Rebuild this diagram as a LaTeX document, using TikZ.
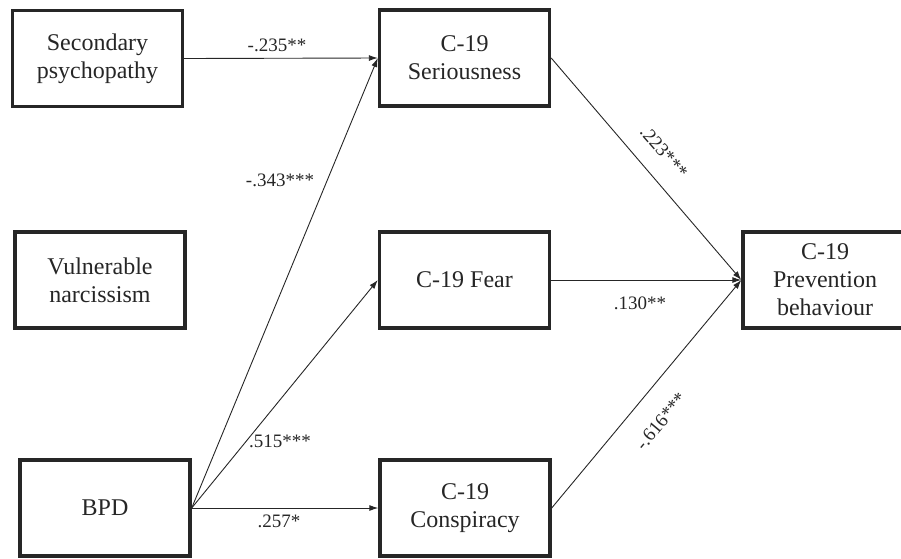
\documentclass[tikz,border=0pt]{standalone}
\usepackage{fontspec}
\setmainfont{Liberation Serif}
\usetikzlibrary{arrows.meta}
\begin{document}
\begin{tikzpicture}[x=1pt,y=-1pt,
  box/.style={draw=black!85, line width=3.4pt, minimum width=170pt, minimum height=96pt,
    inner sep=0pt, align=center, font=\fontsize{24}{28}\selectfont, text=black!85},
  path/.style={line width=0.9pt, draw=black!85, -{Latex[length=9pt,width=6pt]}},
  lab/.style={font=\fontsize{19}{22}\selectfont, text=black!85, inner sep=0pt}]
\useasboundingbox (0,0) rectangle (901,558);
\clip (0,0) rectangle (901,558);
\node[box] (sp) at (97.5,58.5) {Secondary\\psychopathy};
\node[box] (ser) at (464.5,58) {C-19\\Seriousness};
\node[box] (vn) at (100,280) {Vulnerable\\narcissism};
\node[box] (fear) at (464.5,280) {C-19 Fear};
\node[box, minimum width=164pt] (prev) at (825,280) {C-19\\Prevention\\behaviour};
\node[box] (bpd) at (105,508) {BPD};
\node[box] (con) at (465,508) {C-19\\Conspiracy};
\draw[path] (sp.east) -- (ser.west);
\draw[path] (bpd.east) -- (ser.west);
\draw[path] (bpd.east) -- (fear.west);
\draw[path] (bpd.east) -- (con.west);
\draw[path] (ser.east) -- (prev.west);
\draw[path] (fear.east) -- (prev.west);
\draw[path] (con.east) -- (prev.west);
\node[lab] (l1) at (277,45) {-.235**};
\node[lab] (l2) at (280,180) {-.343***};
\node[lab] (l3) at (280,441) {.515***};
\node[lab] (l4) at (279,521) {.257*};
\node[lab, rotate=-49] (l5) at (664,152) {.223***};
\node[lab] (l6) at (640,303) {.130**};
\node[lab, rotate=50] (l7) at (661,421) {-.616***};
\end{tikzpicture}
\end{document}
